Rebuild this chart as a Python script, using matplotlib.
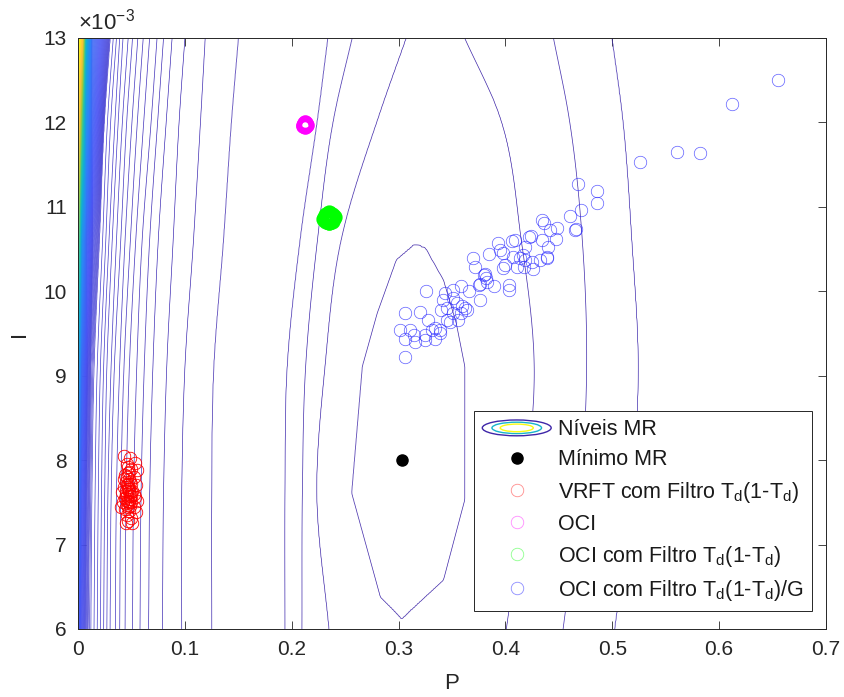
import numpy as np
import matplotlib
matplotlib.use("Agg")
import matplotlib.pyplot as plt
from matplotlib.colors import LinearSegmentedColormap
from matplotlib.lines import Line2D
from matplotlib.patches import Ellipse
from matplotlib.legend_handler import HandlerBase
from matplotlib.ticker import FuncFormatter

plt.rcParams['font.family'] = ['Liberation Sans', 'DejaVu Sans']
plt.rcParams['mathtext.fontset'] = 'custom'
plt.rcParams['mathtext.rm'] = 'Liberation Sans'
plt.rcParams['mathtext.it'] = 'Liberation Sans:italic'
plt.rcParams['mathtext.default'] = 'regular'

# ---- cost surface: contour crossings ----
I_rows = [6.0e-3, 7.6e-3, 9.1e-3, 10.6e-3, 12.1e-3, 13.0e-3]

# valley floor per row (P position, level when outside the closed level-1 curve)
valley_p = [0.303, 0.303, 0.310, 0.315, 0.330, 0.335]
valley_z = [1.05, 0.30, 0.30, 1.02, 1.60, 1.85]

# closed level-1 curve around the minimum (vertices, I in 1e-3)
lvl1_left_i = [6.13, 6.38, 7.61, 9.11, 9.74, 10.37, 10.55]
lvl1_left_p = [0.303, 0.283, 0.256, 0.266, 0.280, 0.298, 0.315]
lvl1_right_i = [6.13, 6.58, 7.53, 9.11, 9.62, 10.13, 10.51, 10.55]
lvl1_right_p = [0.303, 0.342, 0.362, 0.362, 0.354, 0.342, 0.325, 0.315]

# left branch crossings, levels 2..20 (one list per level, across I_rows)
left_cross = [
    [0.2347, 0.2234, 0.231, 0.246, 0.282, 0.307],
    [0.2095, 0.210, 0.213, 0.224, 0.240, 0.2565],
    [0.194, 0.194, 0.196, 0.208, 0.225, 0.234],
    [0.125, 0.125, 0.127, 0.136, 0.144, 0.150],
    [0.097, 0.097, 0.100, 0.108, 0.115, 0.119],
    [0.079, 0.080, 0.083, 0.089, 0.095, 0.100],
    [0.066, 0.067, 0.070, 0.075, 0.083, 0.088],
    [0.058, 0.059, 0.062, 0.067, 0.075, 0.080],
    [0.051, 0.052, 0.055, 0.060, 0.069, 0.074],
    [0.044, 0.045, 0.048, 0.054, 0.062, 0.067],
    [0.039, 0.040, 0.043, 0.049, 0.056, 0.061],
    [0.035, 0.036, 0.039, 0.044, 0.051, 0.056],
    [0.030, 0.031, 0.034, 0.040, 0.046, 0.051],
    [0.027, 0.028, 0.031, 0.036, 0.042, 0.047],
    [0.024, 0.025, 0.027, 0.032, 0.038, 0.042],
    [0.021, 0.022, 0.024, 0.029, 0.035, 0.039],
    [0.018, 0.019, 0.021, 0.026, 0.031, 0.036],
    [0.015, 0.016, 0.018, 0.023, 0.028, 0.033],
    [0.012, 0.013, 0.015, 0.020, 0.025, 0.030],
]

# right branch crossings, levels 2..4
right_cross = [
    [0.401, 0.418, 0.427, 0.415, 0.394, 0.362],
    [0.454, 0.470, 0.476, 0.472, 0.459, 0.445],
    [0.502, 0.518, 0.524, 0.518, 0.509, 0.4995],
]
right_end_p, right_end_z = 0.8, 5.0

# dense band next to P = 0: four (P, level) anchors per row
edge_p = [[0.0005, 0.003, 0.007, 0.0095], [0.0005, 0.003, 0.008, 0.011],
          [0.0005, 0.003, 0.009, 0.012], [0.0005, 0.003, 0.008, 0.014],
          [0.0005, 0.003, 0.007, 0.013], [0.0005, 0.004, 0.007, 0.013]]
edge_z = [[45, 35, 26, 22], [60, 42, 27, 22], [95, 55, 30, 23],
          [160, 90, 50, 30], [235, 175, 90, 50], [260, 220, 120, 55]]
n_levels = 260

# ---- estimates ----
min_p, min_i = [0.303], [8.0e-3]

vrft_p = [0.043, 0.049, 0.053, 0.055, 0.046, 0.050, 0.047, 0.044, 0.052, 0.048,
          0.045, 0.050, 0.054, 0.043, 0.047, 0.051, 0.041, 0.045, 0.049, 0.053,
          0.044, 0.047, 0.042, 0.050, 0.046, 0.052, 0.044, 0.048, 0.054, 0.046,
          0.050, 0.047, 0.051, 0.045, 0.048, 0.046, 0.049, 0.043, 0.052, 0.047,
          0.040, 0.055, 0.046, 0.048, 0.047, 0.049, 0.045, 0.048, 0.050, 0.046,
          0.047, 0.049, 0.048, 0.046, 0.050, 0.047]
vrft_i = np.array([8.05, 8.02, 7.96, 7.88, 7.95, 7.90, 7.85, 7.82, 7.80, 7.78,
                   7.74, 7.72, 7.70, 7.68, 7.66, 7.64, 7.62, 7.60, 7.58, 7.56,
                   7.55, 7.52, 7.50, 7.50, 7.47, 7.44, 7.42, 7.40, 7.38, 7.35,
                   7.32, 7.28, 7.25, 7.25, 7.62, 7.70, 7.46, 7.78, 7.60, 7.92,
                   7.45, 7.52, 7.58, 7.66, 7.72, 7.54, 7.64, 7.50, 7.62, 7.80,
                   7.44, 7.74, 7.86, 7.52, 7.58, 7.68]) * 1e-3

oci_p = [0.2124, 0.2105, 0.2143, 0.2124, 0.2124, 0.2112, 0.2136, 0.2110, 0.2138]
oci_i = np.array([11.975, 11.975, 11.975, 11.950, 12.000, 11.990, 11.960,
                  11.960, 11.990]) * 1e-3

ocif_p = [0.2350, 0.2310, 0.2390, 0.2350, 0.2350, 0.2322, 0.2378, 0.2322, 0.2378,
          0.2335, 0.2365, 0.2340, 0.2360, 0.2300, 0.2400, 0.2350, 0.2350]
ocif_i = np.array([10.870, 10.870, 10.870, 10.823, 10.917, 10.837, 10.903, 10.903,
                   10.837, 10.885, 10.855, 10.850, 10.890, 10.860, 10.880,
                   10.815, 10.925]) * 1e-3

ocig_p = [0.655, 0.612, 0.561, 0.582, 0.526, 0.468, 0.486, 0.486, 0.471, 0.460,
          0.466, 0.465, 0.434, 0.436, 0.442, 0.448, 0.447, 0.440, 0.439, 0.432,
          0.424, 0.422, 0.434, 0.418, 0.414, 0.418, 0.426, 0.417, 0.411, 0.406,
          0.409, 0.398, 0.395, 0.393, 0.398, 0.400, 0.385, 0.370, 0.372, 0.380,
          0.382, 0.389, 0.403, 0.403, 0.375, 0.366, 0.376, 0.358, 0.351, 0.343,
          0.351, 0.355, 0.362, 0.345, 0.358, 0.348, 0.339, 0.326, 0.320, 0.306,
          0.328, 0.331, 0.325, 0.325, 0.311, 0.301, 0.314, 0.306, 0.334, 0.315,
          0.306, 0.334, 0.339, 0.340, 0.342, 0.359, 0.364, 0.351, 0.345, 0.356,
          0.4075, 0.4247, 0.4387, 0.4168, 0.381, 0.3825, 0.376]
ocig_i = np.array([12.50, 12.22, 11.65, 11.64, 11.53, 11.27, 11.19, 11.05, 10.96, 10.89,
                   10.74, 10.72, 10.85, 10.81, 10.73, 10.75, 10.62, 10.52, 10.39, 10.37,
                   10.66, 10.64, 10.61, 10.53, 10.39, 10.37, 10.26, 10.29, 10.29, 10.60,
                   10.61, 10.45, 10.49, 10.57, 10.28, 10.31, 10.44, 10.39, 10.29, 10.19,
                   10.16, 10.06, 10.08, 10.02, 10.08, 10.00, 9.90, 10.06, 10.02, 9.98,
                   9.92, 9.86, 9.80, 9.80, 9.74, 9.64, 9.50, 10.00, 9.76, 9.74,
                   9.66, 9.54, 9.48, 9.42, 9.54, 9.54, 9.48, 9.44, 9.44, 9.40,
                   9.22, 9.56, 9.54, 9.78, 9.90, 9.82, 9.78, 9.74, 9.66, 9.66,
                   10.41, 10.35, 10.41, 10.43, 10.21, 10.11, 10.09]) * 1e-3

# parula-like colormap
parula = LinearSegmentedColormap.from_list('parula', [
    (0.2422, 0.1504, 0.6603), (0.2810, 0.3228, 0.9579), (0.1786, 0.5289, 0.9682),
    (0.0689, 0.6948, 0.8394), (0.2161, 0.7843, 0.5923), (0.6720, 0.7793, 0.2227),
    (0.9970, 0.7659, 0.2199), (0.9769, 0.9839, 0.0805)])


def smooth(xk, yk, x):
    # cubic Hermite through the read points
    xk, yk = np.asarray(xk, float), np.asarray(yk, float)
    m = np.gradient(yk, xk)
    i = int(np.clip(np.searchsorted(xk, x) - 1, 0, len(xk) - 2))
    h = xk[i + 1] - xk[i]
    t = (x - xk[i]) / h
    return ((2 * t**3 - 3 * t**2 + 1) * yk[i] + (t**3 - 2 * t**2 + t) * h * m[i]
            + (-2 * t**3 + 3 * t**2) * yk[i + 1] + (t**3 - t**2) * h * m[i + 1])


# build the surface row by row from the crossing curves
P = np.concatenate([[0.0], np.geomspace(3e-4, 0.04, 260), np.linspace(0.0405, 0.7, 700)])
Ig = np.linspace(6e-3, 13e-3, 281)
edge_p_a, edge_z_a = np.array(edge_p), np.array(edge_z, float)
Z = np.empty((len(Ig), len(P)))
for r, iv in enumerate(Ig):
    xp = [np.interp(iv, I_rows, edge_p_a[:, k]) for k in range(edge_p_a.shape[1])]
    zp = [np.interp(iv, I_rows, edge_z_a[:, k]) for k in range(edge_z_a.shape[1])]
    for k in range(len(left_cross) - 1, -1, -1):
        xp.append(smooth(I_rows, left_cross[k], iv)); zp.append(k + 2)
    ik = iv * 1e3
    l1l = np.interp(ik, lvl1_left_i, lvl1_left_p) if lvl1_left_i[0] <= ik <= lvl1_left_i[-1] else None
    l1r = np.interp(ik, lvl1_right_i, lvl1_right_p) if lvl1_right_i[0] <= ik <= lvl1_right_i[-1] else None
    if l1l is not None and l1r is not None and l1r - l1l > 2e-4:
        xp += [l1l, 0.5 * (l1l + l1r), l1r]; zp += [1, 0.3, 1]
    else:
        xp.append(np.interp(iv, I_rows, valley_p))
        zp.append(max(np.interp(iv, I_rows, valley_z), 1.01))
    for k in range(len(right_cross)):
        xp.append(smooth(I_rows, right_cross[k], iv)); zp.append(k + 2)
    xp.append(right_end_p); zp.append(right_end_z)
    Z[r] = np.interp(P, xp, zp)

fig = plt.figure(figsize=(8.45, 6.97), dpi=100)
ax = fig.add_axes([0.0923, 0.0976, 0.8852, 0.8479])

ax.contour(P, Ig, Z, levels=np.arange(1, n_levels + 1), cmap=parula,
           vmin=1, vmax=n_levels, linewidths=0.5)

ax.plot(min_p, min_i, 'o', color='black', markersize=8, zorder=5)
ax.plot(vrft_p, vrft_i, 'o', mfc='none', mec='red', ms=9, mew=0.6, zorder=4)
ax.plot(oci_p, oci_i, 'o', mfc='none', mec='magenta', ms=9, mew=1.5, zorder=4)
ax.plot(ocif_p, ocif_i, 'o', mfc='none', mec=(0, 1, 0), ms=9.5, mew=2.2, zorder=4)
ax.plot(ocig_p, ocig_i, 'o', mfc='none', mec=(0.15, 0.15, 1.0), ms=9, mew=0.5,
        alpha=0.75, zorder=4)

ax.set_xlim(0, 0.7)
ax.set_ylim(6e-3, 13e-3)
ax.set_xticks(np.arange(0, 0.71, 0.1))
ax.set_yticks(np.arange(6, 13.5, 1) * 1e-3)
ax.xaxis.set_major_formatter(FuncFormatter(lambda v, _: f'{v:g}'))
ax.yaxis.set_major_formatter(FuncFormatter(lambda v, _: f'{v * 1e3:g}'))
ax.tick_params(direction='in', top=True, right=True, length=6, width=0.6,
               labelsize=15, colors='0.15', pad=8)
for s in ax.spines.values():
    s.set_color('0.15')
    s.set_linewidth(0.7)
ax.set_xlabel('P', fontsize=16, color='0.15', labelpad=10)
ax.set_ylabel('I', fontsize=16, color='0.15', labelpad=10)
ax.text(0.0, 1.006, r'$\times10^{-3}$', transform=ax.transAxes, fontsize=16,
        ha='left', va='bottom', color='0.15')


class ContourHandler(HandlerBase):
    def create_artists(self, legend, orig, xd, yd, width, height, fontsize, trans):
        cx, cy = xd + width / 2, yd + height / 2
        arts = []
        for sc, c in [(1.0, 0.0), (0.72, 0.45), (0.48, 1.0)]:
            arts.append(Ellipse((cx, cy), width * sc, height * 1.05 * sc, fill=False,
                                edgecolor=parula(c), lw=1.0, transform=trans))
        return arts


lev_proxy = Line2D([], [], color='none')
handles = [
    lev_proxy,
    Line2D([], [], ls='none', marker='o', color='black', ms=8),
    Line2D([], [], ls='none', marker='o', mfc='none', mec=(1, 0.55, 0.55), ms=9, mew=0.6),
    Line2D([], [], ls='none', marker='o', mfc='none', mec=(1, 0.55, 1), ms=9, mew=0.6),
    Line2D([], [], ls='none', marker='o', mfc='none', mec=(0.55, 1, 0.55), ms=9, mew=0.6),
    Line2D([], [], ls='none', marker='o', mfc='none', mec=(0.55, 0.55, 1), ms=9, mew=0.6),
]
labels = ['Níveis MR', 'Mínimo MR', 'VRFT com Filtro T$_d$(1-T$_d$)', 'OCI',
          'OCI com Filtro T$_d$(1-T$_d$)', 'OCI com Filtro T$_d$(1-T$_d$)/G']
leg = ax.legend(handles, labels, handler_map={lev_proxy: ContourHandler()},
                loc='lower left', bbox_to_anchor=(0.529, 0.030), fontsize=15.5,
                frameon=True, fancybox=False, framealpha=1, edgecolor='0.15',
                handlelength=3.2, handletextpad=0.3, labelspacing=0.42,
                borderpad=0.4, borderaxespad=0.0)
leg.get_frame().set_linewidth(0.7)
for t in leg.get_texts():
    t.set_color('0.1')

fig.savefig('out.png', dpi=100)
